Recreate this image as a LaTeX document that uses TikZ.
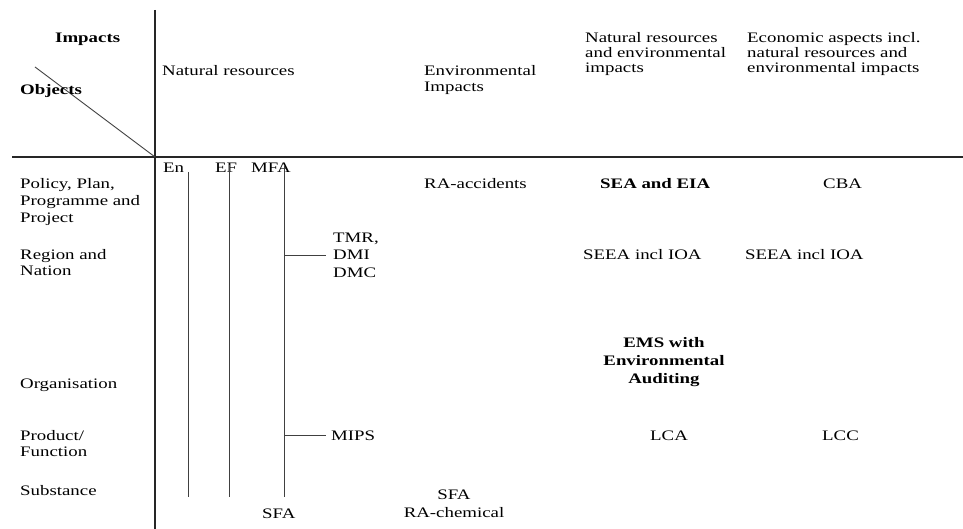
\documentclass[tikz,border=0pt]{standalone}
\usepackage{fontspec}
\setmainfont{Liberation Serif}[FakeStretch=1.3]
\begin{document}
\begin{tikzpicture}[x=1pt,y=-1pt,
  txt/.style={inner sep=0pt,anchor=base west,align=left,font=\fontsize{14.5}{16}\selectfont},
  ctxt/.style={inner sep=0pt,anchor=base,align=center,font=\fontsize{14.5}{17.5}\selectfont},
  axis/.style={line width=1.3pt,black!85},
  tree/.style={line width=0.9pt,black!75}]
\useasboundingbox (0,0) rectangle (963,529);
% axes
\coordinate (vtop) at (155,10);
\coordinate (vbot) at (155,529);
\coordinate (hl) at (12,157);
\coordinate (hr) at (963,157);
\coordinate (origin) at (155,157);
\coordinate (diag) at (35,67);
\draw[axis] (vtop) -- (vbot);
\draw[axis] (hl) -- (hr);
\draw[tree] (diag) -- (origin);
% corner labels
\node[txt,font=\bfseries\fontsize{14.5}{16}\selectfont] (impacts) at (55,43) {Impacts};
\node[txt,font=\bfseries\fontsize{14.5}{16}\selectfont] (objects) at (20,95) {Objects};
% column headers (base anchor = last line)
\node[txt] (h1) at (162,76) {Natural resources};
\node[txt] (h2) at (424,92) {Environmental\\Impacts};
\node[txt,font=\fontsize{14.5}{15}\selectfont] (h3) at (585,73) {Natural resources\\and environmental\\impacts};
\node[txt,font=\fontsize{14.5}{15}\selectfont] (h4) at (747,73) {Economic aspects incl.\\natural resources and\\environmental impacts};
% row labels
\node[txt,font=\fontsize{14.5}{17}\selectfont] (r1) at (20,223) {Policy, Plan,\\Programme and\\Project};
\node[txt] (r2) at (20,276) {Region and\\Nation};
\node[txt] (r3) at (20,388) {Organisation};
\node[txt] (r4) at (20,456) {Product/\\Function};
\node[txt] (r5) at (20,495) {Substance};
% tree of natural resources
\node[txt] (en) at (163,173) {En};
\node[txt] (ef) at (215,173) {EF};
\node[txt] (mfa) at (251,173) {MFA};
\coordinate (enT) at (188,172);
\coordinate (enB) at (188,497);
\coordinate (efT) at (229,165);
\coordinate (efB) at (229,497);
\coordinate (mfaT) at (284,165);
\coordinate (mfaB) at (284,497);
\draw[tree] (enT) -- (enB);
\draw[tree] (efT) -- (efB);
\draw[tree] (mfaT) -- (mfaB);
\node[txt,font=\fontsize{14.5}{17.5}\selectfont] (tmr) at (333,277) {TMR,\\DMI\\DMC};
\node[txt] (mips) at (331,440) {MIPS};
\node[txt] (sfa1) at (262,518) {SFA};
\coordinate (b1) at (284,255);
\coordinate (b2) at (284,435);
\draw[tree] (b1) -- (326,255);
\draw[tree] (b2) -- (326,435);
% cells
\node[txt] (raacc) at (424,189) {RA-accidents};
\node[txt,font=\bfseries\fontsize{14.5}{16}\selectfont] (sea) at (600,189) {SEA and EIA};
\node[txt] (cba) at (823,189) {CBA};
\node[txt] (seea1) at (583,260) {SEEA incl IOA};
\node[txt] (seea2) at (745,260) {SEEA incl IOA};
\node[ctxt,font=\bfseries\fontsize{14.5}{18}\selectfont] (ems) at (664,383) {EMS with\\Environmental\\Auditing};
\node[txt] (lca) at (650,440) {LCA};
\node[txt] (lcc) at (822,440) {LCC};
\node[ctxt] (sfa2) at (454,517) {SFA\\RA-chemical};
\end{tikzpicture}
\end{document}
